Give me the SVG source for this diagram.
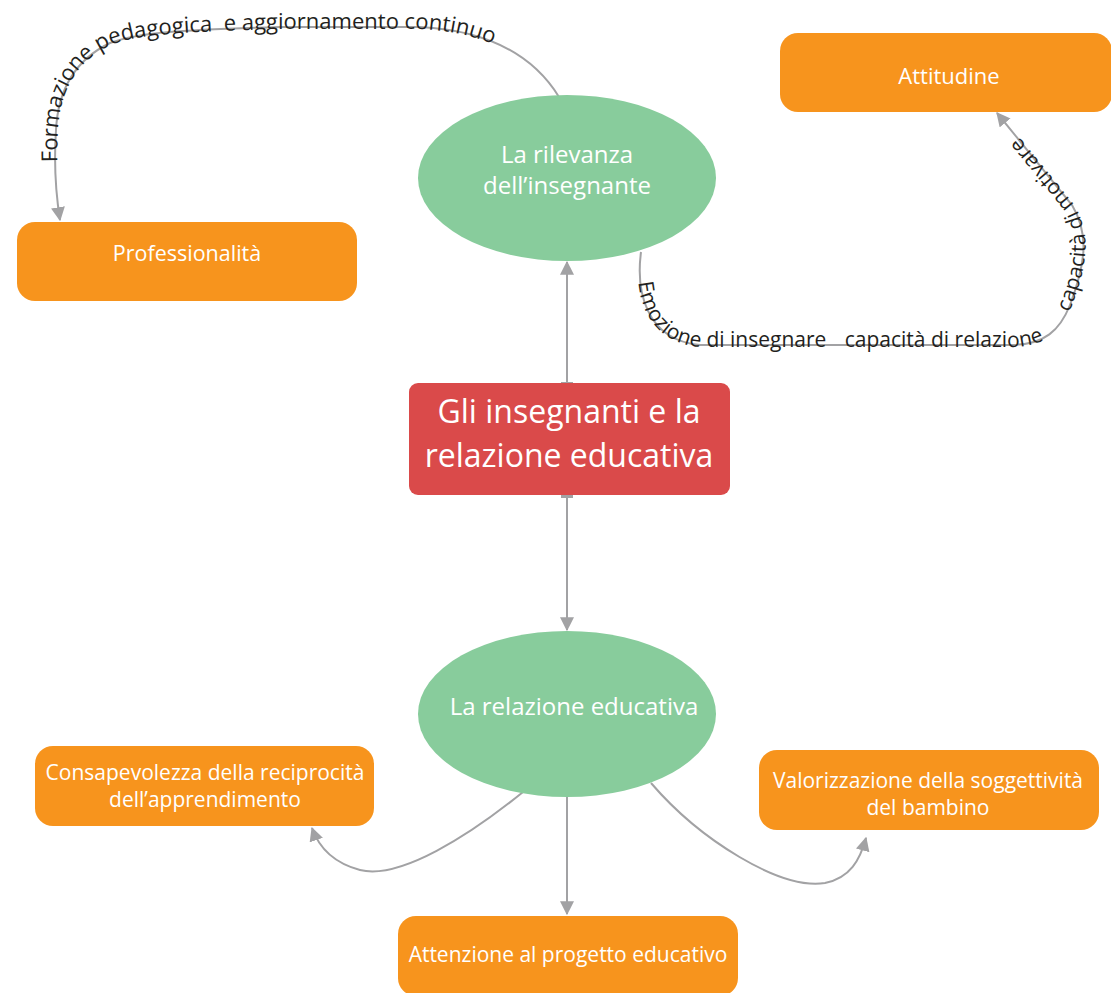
<svg xmlns="http://www.w3.org/2000/svg" width="1111" height="993" viewBox="0 0 1111 993">
<style>
.orange{fill:#F7941D}
.green{fill:#88CC9C}
.red{fill:#DA4A4A}
.lbl{font-family:"Open Sans","Liberation Sans",sans-serif;fill:#ffffff;text-anchor:middle}
.con{fill:none;stroke:#A2A2A4;stroke-width:2}
.ptxt{font-family:"Open Sans","Liberation Sans",sans-serif;font-size:21px;fill:#231F20}
.ptxt.big{font-size:22px}
</style>
<defs>
<marker id="arr" markerUnits="userSpaceOnUse" markerWidth="14" markerHeight="14" viewBox="0 0 12 12" refX="11" refY="6" orient="auto">
<path d="M0,0 L12,6 L0,12 z" fill="#A2A2A4"/>
</marker>
<marker id="tick" markerUnits="userSpaceOnUse" markerWidth="4" markerHeight="12" viewBox="0 0 4 12" refX="2" refY="6" orient="auto">
<rect x="0" y="0" width="3" height="12" fill="#A2A2A4"/>
</marker>
<path id="tp1" d="M60,220 C56,195 54,160 56,130 C58,90 75,60 110,43 C140,32 180,30 280,27 L420,27 C480,30 530,50 559,97"/>
<path id="tp2" d="M641,252 C636,290 645,340 700,345 L1010,345 C1045,345 1060,330 1070,305 C1085,265 1090,235 1072,205 L997,113"/>
</defs>

<g id="connectors">
<path class="con" d="M567,383 L567,262" marker-start="url(#tick)" marker-end="url(#arr)"/>
<path class="con" d="M567,497 L567,630" marker-start="url(#tick)" marker-end="url(#arr)"/>
<path class="con" d="M567,797 L567,914" marker-end="url(#arr)"/>
<path class="con" d="M523,792 C470,835 400,880 360,870 C330,862 318,845 312,828" marker-end="url(#arr)"/>
<path class="con" d="M651,783 C700,840 780,890 825,883 C850,878 860,860 866,838" marker-end="url(#arr)"/>
<path class="con" d="M559,97 C530,50 480,30 420,27 L280,27 C180,30 140,32 110,43 C75,60 58,90 56,130 C54,160 56,195 60,220" marker-end="url(#arr)"/>
<path class="con" d="M641,252 C636,290 645,340 700,345 L1010,345 C1045,345 1060,330 1070,305 C1085,265 1090,235 1072,205 L997,113" marker-end="url(#arr)"/>
<text class="ptxt big" dy="2"><textPath href="#tp1" startOffset="58" xml:space="preserve">Formazione pedagogica  e aggiornamento continuo</textPath></text>
<text class="ptxt" dy="2"><textPath href="#tp2" startOffset="30">Emozione di insegnare</textPath></text>
<text class="ptxt" dy="2"><textPath href="#tp2" startOffset="270">capacità di relazione</textPath></text>
<text class="ptxt" dy="2"><textPath href="#tp2" startOffset="506">capacità di motivare</textPath></text>
</g>

<g id="attitudine">
<rect class="orange" x="780" y="33" width="332" height="79" rx="18"/>
<text class="lbl" x="949" y="84" font-size="22">Attitudine</text>
</g>
<g id="professionalita">
<rect class="orange" x="17" y="222" width="340" height="79" rx="18"/>
<text class="lbl" x="187" y="261" font-size="21.5">Professionalità</text>
</g>
<g id="rilevanza">
<ellipse class="green" cx="567" cy="178" rx="149" ry="83"/>
<text class="lbl" x="567" y="163" font-size="24">La rilevanza</text>
<text class="lbl" x="567" y="194" font-size="24">dell’insegnante</text>
</g>
<g id="centrale">
<rect class="red" x="409" y="383" width="321" height="112" rx="9"/>
<text class="lbl" x="569" y="423" font-size="32">Gli insegnanti e la</text>
<text class="lbl" x="569" y="467" font-size="32">relazione educativa</text>
</g>
<g id="relazione">
<ellipse class="green" cx="567" cy="714" rx="149" ry="83"/>
<text class="lbl" x="574" y="715" font-size="24">La relazione educativa</text>
</g>
<g id="consapevolezza">
<rect class="orange" x="35" y="746" width="339" height="80" rx="18"/>
<text class="lbl" x="205" y="780" font-size="21">Consapevolezza della reciprocità</text>
<text class="lbl" x="205" y="807" font-size="21">dell’apprendimento</text>
</g>
<g id="valorizzazione">
<rect class="orange" x="759" y="750" width="340" height="80" rx="18"/>
<text class="lbl" x="928" y="788" font-size="21">Valorizzazione della soggettività</text>
<text class="lbl" x="928" y="815" font-size="21">del bambino</text>
</g>
<g id="attenzione">
<rect class="orange" x="398" y="916" width="340" height="80" rx="18"/>
<text class="lbl" x="568" y="962" font-size="21">Attenzione al progetto educativo</text>
</g>
</svg>
